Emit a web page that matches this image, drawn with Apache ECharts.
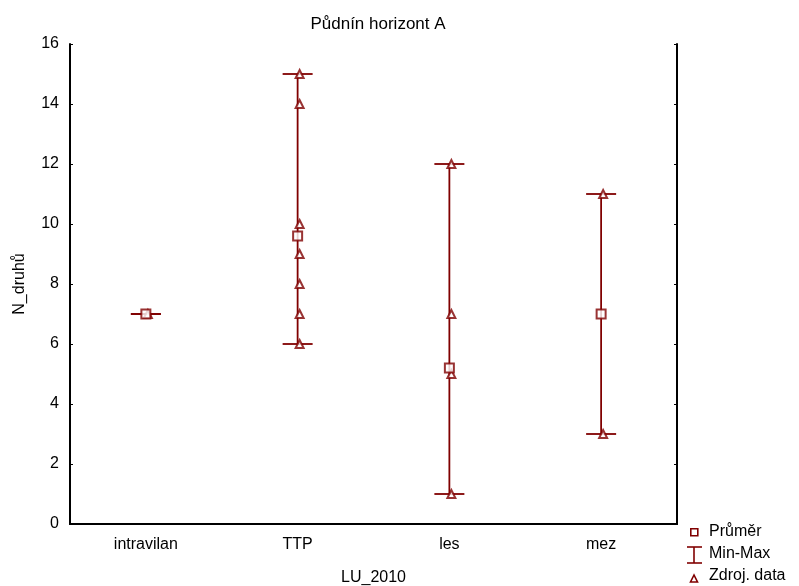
<!DOCTYPE html>
<html>
<head>
<meta charset="utf-8">
<script src="https://cdn.jsdelivr.net/npm/echarts@6/dist/echarts.min.js"></script>
<style>
  html, body { margin: 0; padding: 0; background: #fff; }
  #chart { width: 799px; height: 586px; }
</style>
</head>
<body>
<div id="chart"></div>
<script>
// data
const categories = ["intravilan", "TTP", "les", "mez"];
const means = [7, 9.6, 5.2, 7];
const mins = [7, 6, 1, 3];
const maxs = [7, 15, 12, 11];
const rawData = [
  [7],
  [15, 14, 10, 9, 8, 7, 6],
  [12, 7, 5, 1],
  [11, 3]
];
const yTicks = [0, 2, 4, 6, 8, 10, 12, 14, 16];

const red = "#800000";
const font = "Liberation Sans, Arial, sans-serif";

const chart = echarts.init(document.getElementById("chart"));

const rawPoints = [];
rawData.forEach((vals, i) => {
  vals.forEach(v => rawPoints.push([i, v]));
});

const option = {
  animation: false,
  backgroundColor: "#fff",
  textStyle: { fontFamily: font },
  title: {
    text: "Půdnín horizont A",
    left: 373,
    top: 11,
    textAlign: "center",
    textStyle: { fontSize: 17, fontWeight: "normal", color: "#000", fontFamily: font }
  },
  grid: { left: 70, right: 122, top: 44, bottom: 62, outerBoundsMode: "none", containLabel: false },
  xAxis: [
    {
      type: "category",
      data: categories,
      boundaryGap: true,
      name: "LU_2010",
      nameLocation: "middle",
      nameGap: 46,
      nameTextStyle: { fontSize: 16, color: "#000" },
      axisLine: { lineStyle: { color: "#000", width: 2 } },
      axisTick: { inside: true, length: 3, alignWithLabel: true, lineStyle: { color: "#000" } },
      axisLabel: { fontSize: 16, color: "#000", margin: 13 },
      splitLine: { show: false }
    },
    {
      type: "category",
      data: categories,
      position: "top",
      boundaryGap: true,
      axisLine: { lineStyle: { color: "#000", width: 2 } },
      axisTick: { inside: true, length: 3, alignWithLabel: true, lineStyle: { color: "#000" } },
      axisLabel: { show: false },
      splitLine: { show: false }
    }
  ],
  yAxis: [
    {
      type: "value",
      min: yTicks[0],
      max: yTicks[yTicks.length - 1],
      interval: 2,
      name: "N_druhů",
      nameLocation: "middle",
      nameGap: 42,
      nameTextStyle: { fontSize: 16, color: "#000" },
      axisLine: { show: true, lineStyle: { color: "#000", width: 2 } },
      axisTick: { show: true, inside: true, length: 3, lineStyle: { color: "#000" } },
      axisLabel: { fontSize: 16, color: "#000", margin: 11 },
      splitLine: { show: false }
    },
    {
      type: "value",
      position: "right",
      min: yTicks[0],
      max: yTicks[yTicks.length - 1],
      interval: 2,
      axisLine: { show: true, lineStyle: { color: "#000", width: 2 } },
      axisTick: { show: true, inside: true, length: 3, lineStyle: { color: "#000" } },
      axisLabel: { show: false },
      splitLine: { show: false }
    }
  ],
  series: [
    {
      name: "Min-Max",
      type: "custom",
      data: categories.map((c, i) => [i, mins[i], maxs[i]]),
      encode: { x: 0, y: [1, 2] },
      renderItem(params, api) {
        const lo = api.coord([api.value(0), api.value(1)]);
        const hi = api.coord([api.value(0), api.value(2)]);
        const half = 15;
        const style = { stroke: red, lineWidth: 1.8 };
        return {
          type: "group",
          children: [
            { type: "line", shape: { x1: lo[0], y1: lo[1], x2: hi[0], y2: hi[1] }, style },
            { type: "line", shape: { x1: lo[0] - half, y1: lo[1], x2: lo[0] + half, y2: lo[1] }, style },
            { type: "line", shape: { x1: hi[0] - half, y1: hi[1], x2: hi[0] + half, y2: hi[1] }, style }
          ]
        };
      },
      z: 2
    },
    {
      name: "Zdroj. data",
      type: "scatter",
      data: rawPoints,
      symbol: "emptyTriangle",
      symbolSize: 8,
      symbolOffset: [2, 0],
      itemStyle: { color: red, borderWidth: 1.5 },
      z: 3
    },
    {
      name: "Průměr",
      type: "scatter",
      data: means.map((m, i) => [i, m]),
      symbol: "emptyRect",
      symbolSize: 9,
      itemStyle: { color: red, borderWidth: 1.5 },
      z: 4
    }
  ],
  graphic: [
    { type: "rect", left: 690, top: 528, shape: { width: 7, height: 7 }, style: { fill: "#fff", stroke: red, lineWidth: 1.6 } },
    { type: "text", left: 709, top: 524, style: { text: "Průměr", font: "16px " + font, fill: "#000" } },
    { type: "line", shape: { x1: 694, y1: 547, x2: 694, y2: 563 }, style: { stroke: red, lineWidth: 1.6 } },
    { type: "line", shape: { x1: 687, y1: 547, x2: 702, y2: 547 }, style: { stroke: red, lineWidth: 1.6 } },
    { type: "line", shape: { x1: 687, y1: 563, x2: 702, y2: 563 }, style: { stroke: red, lineWidth: 1.6 } },
    { type: "polygon", shape: { points: [[694, 575], [690.5, 582], [697.5, 582]] }, style: { fill: "#fff", stroke: red, lineWidth: 1.6 } },
    { type: "text", left: 709, top: 546, style: { text: "Min-Max", font: "16px " + font, fill: "#000" } },
    { type: "text", left: 709, top: 568, style: { text: "Zdroj. data", font: "16px " + font, fill: "#000" } }
  ]
};

chart.setOption(option);
</script>
</body>
</html>
